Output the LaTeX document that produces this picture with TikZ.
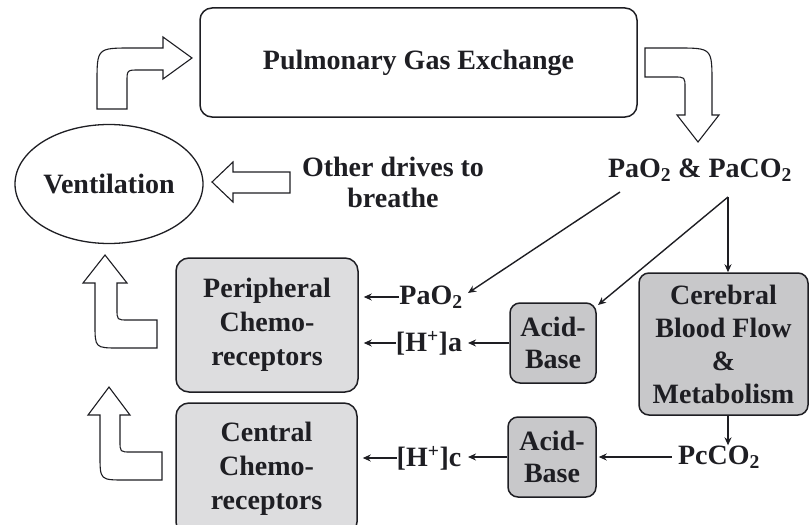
\documentclass[tikz,border=0pt]{standalone}
\usepackage{fontspec}
\setmainfont{Liberation Serif}
\usetikzlibrary{arrows.meta,shapes.geometric}
\definecolor{lightbox}{RGB}{221,221,223}
\definecolor{darkbox}{RGB}{200,200,202}
\definecolor{ink}{RGB}{30,30,35}
\tikzset{
  txt/.style={font=\fontsize{28}{34}\selectfont\bfseries, text=ink, align=center, inner sep=0pt},
  whitebox/.style={txt, draw=ink, line width=1.5pt, rounded corners=12pt},
  lightgraybox/.style={txt, draw=ink, fill=lightbox, line width=1.5pt, rounded corners=13pt},
  darkgraybox/.style={txt, draw=ink, fill=darkbox, line width=1.5pt, rounded corners=10pt},
  conn/.style={draw=ink, line width=1.4pt, -{Stealth[length=8pt,width=7pt]}},
  fatarrow/.style={draw=ink, line width=1.1pt, fill=white, line join=miter}
}
\begin{document}
\begin{tikzpicture}[x=1pt,y=-1pt]
\useasboundingbox (0,0) rectangle (810,524);

% boxes
\node[whitebox, minimum width=437pt, minimum height=109pt] (pge) at (418.5,62.5) {Pulmonary Gas Exchange};
\node[txt, draw=ink, line width=1.3pt, ellipse, minimum width=188pt, minimum height=119pt] (vent) at (109,184) {Ventilation};
\node[txt, font=\fontsize{28}{31}\selectfont\bfseries] (other) at (393,182) {Other drives to\\breathe};
\node[txt] (pa) at (700,170) {PaO\textsubscript{2} \& PaCO\textsubscript{2}};
\node[lightgraybox, minimum width=182pt, minimum height=134pt] (per) at (267,325) {Peripheral\\Chemo-\\receptors};
\node[lightgraybox, minimum width=181pt, minimum height=132pt] (cen) at (266.5,469) {Central\\Chemo-\\receptors};
\node[darkgraybox, minimum width=169pt, minimum height=142pt, font=\fontsize{28}{33}\selectfont\bfseries] (cbf) at (723.5,344) {Cerebral\\Blood Flow\\\&\\Metabolism};
\node[darkgraybox, minimum width=86pt, minimum height=80pt, font=\fontsize{28}{32}\selectfont\bfseries] (ab1) at (553,343) {Acid-\\Base};
\node[darkgraybox, minimum width=88pt, minimum height=80pt, font=\fontsize{28}{32}\selectfont\bfseries] (ab2) at (552,457) {Acid-\\Base};
\node[txt] (pao) at (431,297) {PaO\textsubscript{2}};
\node[txt] (ha) at (429,343) {[H\textsuperscript{+}]a};
\node[txt] (hc) at (429,458) {[H\textsuperscript{+}]c};
\node[txt] (pc) at (719,457) {PcCO\textsubscript{2}};

% connector anchors
\coordinate (s1) at (620,192);
\coordinate (s2) at (728,197);
\coordinate (t1) at (468,293);
\coordinate (t2) at (598,305);

\draw[conn] (s1) -- (t1);
\draw[conn] (s2) -- (t2);
\draw[conn] (s2) -- (cbf.north -| s2);
\draw[conn] (ab1.west) -- (468,343);
\draw[conn] (pao.west) -- ([xshift=5pt]per.east |- pao.west);
\draw[conn] (ha.west) -- ([xshift=5pt]per.east |- ha.west);
\draw[conn] (hc.west) -- ([xshift=5pt]cen.east |- hc.west);
\draw[conn] (ab2.west) -- (468,457);
\draw[conn] ([xshift=-6pt]pc.west) -- ([xshift=2pt]ab2.east |- pc.west);
\coordinate (cb) at (728,415);
\draw[conn] (cb) -- (cb |- pc.north);

% fat hollow arrows
% ventilation -> pulmonary
\draw[fatarrow] (97,109) -- (97,83) .. controls (97,48) .. (132,48) -- (163,48) -- (163,37) -- (192,58) -- (163,79) -- (163,70) -- (139,70) .. controls (127,70) .. (127,82) -- (127,109) -- cycle;
% pulmonary -> PaO2 & PaCO2
\draw[fatarrow] (645,48) -- (677,48) .. controls (712,48) .. (712,83) -- (712,115) -- (719,115) -- (698,142) -- (677,115) -- (685,115) -- (685,88) .. controls (685,77) .. (674,77) -- (645,77) -- cycle;
% other drives -> ventilation
\draw[fatarrow] (290,172) -- (233,172) -- (233,162) -- (212,182) -- (233,202) -- (233,193) -- (290,193) -- cycle;
% peripheral -> ventilation
\draw[fatarrow] (157,320) -- (128,320) .. controls (117,320) .. (117,309) -- (117,283) -- (127,283) -- (105,255) -- (83,283) -- (95,283) -- (95,324) .. controls (95,348) .. (119,348) -- (157,348) -- cycle;
% central -> ventilation
\draw[fatarrow] (162,452) -- (131,452) .. controls (120,452) .. (120,441) -- (120,415) -- (130,415) -- (109,387) -- (88,415) -- (100,415) -- (100,455) .. controls (100,480) .. (125,480) -- (162,480) -- cycle;
\end{tikzpicture}
\end{document}
